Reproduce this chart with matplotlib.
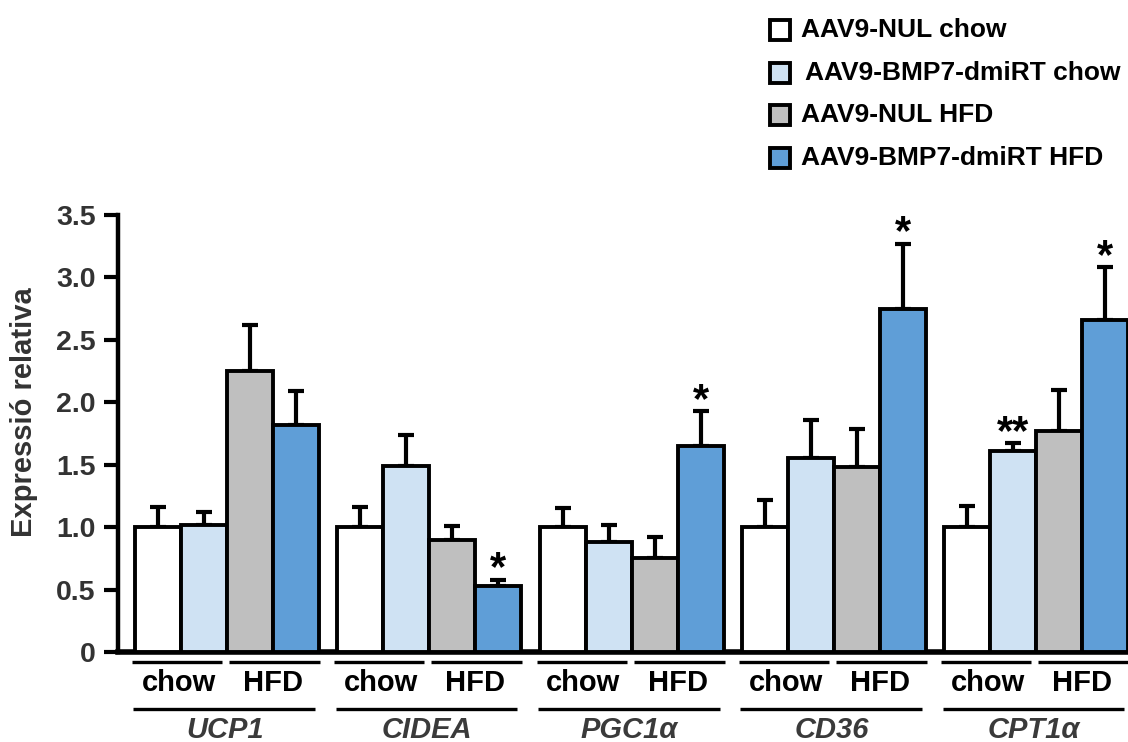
import matplotlib
matplotlib.use("Agg")
import matplotlib.pyplot as plt
from matplotlib.patches import Rectangle
from matplotlib.transforms import blended_transform_factory
import numpy as np

plt.rcParams['font.family'] = ['Liberation Sans', 'DejaVu Sans']

genes = ["UCP1", "CIDEA", "PGC1α", "CD36", "CPT1α"]
series_names = ["AAV9-NUL chow", "AAV9-BMP7-dmiRT chow", "AAV9-NUL HFD", "AAV9-BMP7-dmiRT HFD"]
colors = ["#ffffff", "#cfe2f3", "#bfbfbf", "#5f9ed7"]

nul_chow = [1.00, 1.00, 1.00, 1.00, 1.00]
bmp_chow = [1.02, 1.49, 0.88, 1.55, 1.61]
nul_hfd = [2.25, 0.90, 0.75, 1.48, 1.77]
bmp_hfd = [1.82, 0.53, 1.65, 2.75, 2.66]

nul_chow_err = [0.16, 0.16, 0.15, 0.22, 0.17]
bmp_chow_err = [0.10, 0.25, 0.14, 0.31, 0.06]
nul_hfd_err = [0.37, 0.11, 0.17, 0.31, 0.33]
bmp_hfd_err = [0.27, 0.05, 0.28, 0.52, 0.42]

stars_bmp_chow = ["", "", "", "", "**"]
stars_bmp_hfd = ["", "*", "*", "*", "*"]

yticks = [0, 0.5, 1.0, 1.5, 2.0, 2.5, 3.0, 3.5]
ytick_labels = ["0", "0.5", "1.0", "1.5", "2.0", "2.5", "3.0", "3.5"]
diet_labels = ["chow", "HFD"]

values = [nul_chow, bmp_chow, nul_hfd, bmp_hfd]
errors = [nul_chow_err, bmp_chow_err, nul_hfd_err, bmp_hfd_err]
stars = [None, stars_bmp_chow, None, stars_bmp_hfd]

W, H = 1128, 742
fig = plt.figure(figsize=(W / 100, H / 100), dpi=100)
ax = fig.add_axes([118 / W, 90 / H, 1 - 118 / W, 437 / H])

G = 4.4
bw = 1.0
group_x = np.arange(len(genes)) * G
for i in range(4):
    xs = group_x + i * bw + bw / 2
    ax.bar(xs, values[i], width=bw, color=colors[i], edgecolor="black",
           linewidth=2.8, zorder=3)
    ax.errorbar(xs, values[i], yerr=[np.zeros(len(genes)), errors[i]], fmt="none",
                ecolor="black", elinewidth=3.0, capsize=5.5, capthick=3.0, zorder=2)
    if stars[i] is not None:
        for x, v, e, s in zip(xs, values[i], errors[i], stars[i]):
            if s:
                ax.text(x, v + e - 0.005, s, ha="center", va="baseline",
                        fontsize=30, fontweight="bold", color="black", zorder=4)

ax.set_xlim(-0.37, 4 * G + 4 * bw - 0.01)
ax.set_ylim(0, 3.5)
ax.set_yticks(yticks)
ax.set_yticklabels(ytick_labels, fontsize=20.5, fontweight="bold", color="#333333")
ax.set_xticks([])
ax.tick_params(axis="y", direction="out", length=10, width=3, pad=6)
for side in ["top", "right"]:
    ax.spines[side].set_visible(False)
ax.spines["left"].set_linewidth(3.2)
ax.spines["bottom"].set_linewidth(4)
fig.text(24 / W, 1 - 412 / H, "Expressió relativa", rotation=90, ha="center", va="center",
         fontsize=21, fontweight="bold", color="#333333")

trans = blended_transform_factory(ax.transData, ax.transAxes)
for g, gx in enumerate(group_x):
    ax.plot([gx - 0.07, gx + 1.89], [-0.023, -0.023], color="black", lw=2.4,
            transform=trans, clip_on=False, solid_capstyle="butt")
    ax.plot([gx + 2.04, gx + 4.02], [-0.023, -0.023], color="black", lw=2.4,
            transform=trans, clip_on=False, solid_capstyle="butt")
    ax.text(gx + 0.95, -0.072, diet_labels[0], ha="center", va="center", fontsize=21,
            fontweight="bold", color="black", transform=trans)
    ax.text(gx + 3.0, -0.072, diet_labels[1], ha="center", va="center", fontsize=21,
            fontweight="bold", color="black", transform=trans)
    ax.plot([gx - 0.04, gx + 3.91], [-0.13, -0.13], color="black", lw=2.4,
            transform=trans, clip_on=False, solid_capstyle="butt")
    ax.text(gx + 1.95, -0.178, genes[g], ha="center", va="center", fontsize=21,
            fontweight="bold", fontstyle="italic", color="#3a3a3a", transform=trans)

# legend
row_y = [30, 73, 115, 158]
text_x = [801, 805, 801, 801]
for i in range(4):
    cy = row_y[i]
    fig.patches.append(Rectangle((770 / W, 1 - (cy + 10) / H), 20 / W, 20 / H,
                                 transform=fig.transFigure, facecolor=colors[i],
                                 edgecolor="black", linewidth=2.8))
    fig.text(text_x[i] / W, 1 - cy / H, series_names[i], ha="left", va="center",
             fontsize=19, fontweight="bold", color="black")

fig.savefig("out.png", dpi=100)
